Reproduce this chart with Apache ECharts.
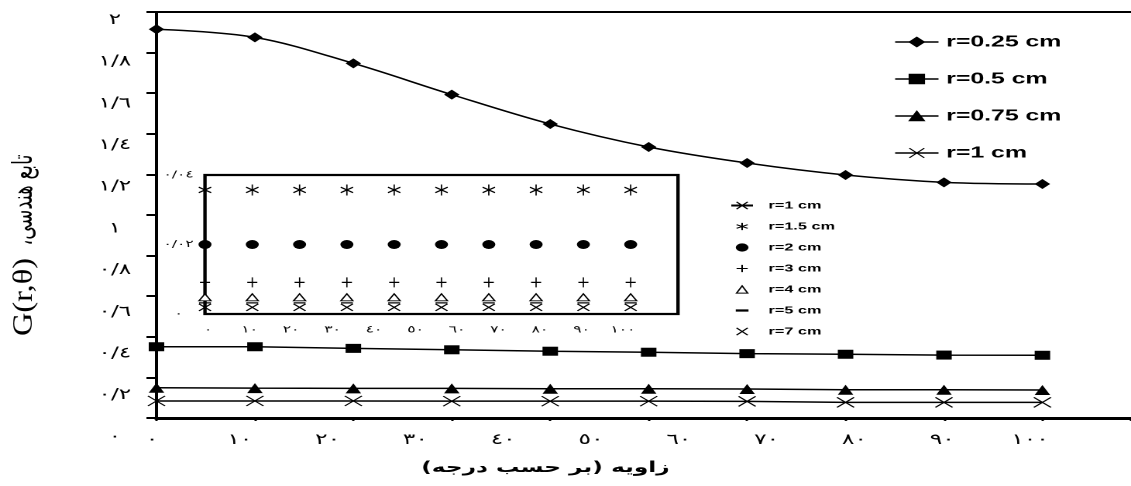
<!DOCTYPE html>
<html><head><meta charset="utf-8">
<script src="https://cdn.jsdelivr.net/npm/echarts@6/dist/echarts.min.js"></script>
<style>
html,body{margin:0;padding:0;background:#fff;overflow:hidden;width:1131px;height:486px}
#chart{width:730px;height:486px;transform:scaleX(1.549315);transform-origin:0 0}
</style></head><body><div id="chart"></div>
<script>
// angles (degrees)
const angles = [0, 10, 20, 30, 40, 50, 60, 70, 80, 90];
// main chart series
const r025 = [1.915, 1.875, 1.747, 1.593, 1.448, 1.335, 1.256, 1.197, 1.161, 1.153];
const r05  = [0.351, 0.351, 0.343, 0.336, 0.329, 0.324, 0.317, 0.314, 0.310, 0.309];
const r075 = [0.149, 0.147, 0.146, 0.146, 0.144, 0.144, 0.143, 0.139, 0.139, 0.138];
const r1   = [0.084, 0.084, 0.084, 0.083, 0.083, 0.083, 0.082, 0.077, 0.077, 0.077];
// inset series
const r15 = [0.0357, 0.0357, 0.0357, 0.0357, 0.0357, 0.0357, 0.0357, 0.0357, 0.0357, 0.0357];
const r2  = [0.0200, 0.0200, 0.0200, 0.0200, 0.0200, 0.0200, 0.0200, 0.0200, 0.0200, 0.0200];
const r3  = [0.0091, 0.0091, 0.0091, 0.0091, 0.0091, 0.0091, 0.0091, 0.0091, 0.0091, 0.0091];
const r4  = [0.0048, 0.0048, 0.0048, 0.0048, 0.0048, 0.0048, 0.0048, 0.0048, 0.0048, 0.0048];
const r5  = [0.0032, 0.0032, 0.0032, 0.0032, 0.0032, 0.0032, 0.0032, 0.0032, 0.0032, 0.0032];
const r7  = [0.0019, 0.0019, 0.0019, 0.0019, 0.0019, 0.0019, 0.0019, 0.0019, 0.0019, 0.0019];
// tick labels
const mainYTickLabels = ['٠', '٠/٢', '٠/٤', '٠/٦', '٠/٨', '١', '١/٢', '١/٤', '١/٦', '١/٨', '٢'];
const mainXTickLabels = ['٠', '١٠', '٢٠', '٣٠', '٤٠', '٥٠', '٦٠', '٧٠', '٨٠', '٩٠', '١٠٠'];
const insetYTickLabels = ['٠', '٠/٠٢', '٠/٠٤'];
const insetXTickLabels = ['٠', '١٠', '٢٠', '٣٠', '٤٠', '٥٠', '٦٠', '٧٠', '٨٠', '٩٠', '١٠٠'];
// titles
const yTitleLatin = 'G(r,θ)';
const yTitleArabicParts = ['،', 'تابع هندسی'];
const xTitle = 'زاویه (بر حسب درجه)';
const mainNames = ['r=0.25 cm', 'r=0.5 cm', 'r=0.75 cm', 'r=1 cm'];
const insetNames = ['r=1 cm', 'r=1.5 cm', 'r=2 cm', 'r=3 cm', 'r=4 cm', 'r=5 cm', 'r=7 cm'];

const X_PATH = 'path://M0,0L10,10M10,0L0,10';
const AST_PATH = 'path://M5,0L5,10M0.7,2.5L9.3,7.5M9.3,2.5L0.7,7.5';
const PLUS_PATH = 'path://M5,0L5,10M0,5L10,5';
const DASH_PATH = 'path://M0,0L0,0M0,4.2L10,4.2L10,5.8L0,5.8ZM10,10L10,10';

const pair = ys => angles.map((a, i) => [a, ys[i]]);
const richJoin = parts => parts.map(p => '{t|' + p + '}').join('');
const digitFont = "'DejaVu Sans', sans-serif";
const latinBold = "'Liberation Sans', Arial, sans-serif";

function mainSeries(name, ys, symbol, size, stroke, extra) {
  return Object.assign({
    name, type: 'line', xAxisIndex: 0, yAxisIndex: 0, data: pair(ys),
    symbol, symbolSize: size, showSymbol: true,
    itemStyle: { color: '#000', borderColor: '#000', borderWidth: stroke },
    lineStyle: { color: '#000', width: 1.5 },
    emphasis: { disabled: true }, z: 3
  }, extra || {});
}
function insetSeries(name, ys, symbol, size, fill, stroke) {
  return {
    name, type: 'line', xAxisIndex: 3, yAxisIndex: 2, data: pair(ys),
    symbol, symbolSize: size, showSymbol: true,
    itemStyle: { color: fill, borderColor: '#000', borderWidth: stroke },
    lineStyle: { width: 0, opacity: 0 },
    emphasis: { disabled: true }, z: 4
  };
}
const noAxis = { axisLine: { show: false }, axisTick: { show: false }, splitLine: { show: false } };

const chart = echarts.init(document.getElementById('chart'), null, { devicePixelRatio: 2 });
chart.setOption({
  animation: false,
  backgroundColor: '#fff',
  grid: [
    { left: 101, right: 0, top: 12, bottom: 68, outerBoundsMode: 'none' },
    { left: 98.1, width: 566.7, top: 20, height: 417, outerBoundsMode: 'none' },
    { left: 132.3, width: 305.3, top: 175, height: 139, show: true, backgroundColor: '#fff',
      borderColor: '#000', borderWidth: 2.2, outerBoundsMode: 'none' },
    { left: 134.3, width: 267.8, top: 322, height: 1, outerBoundsMode: 'none' }
  ],
  xAxis: [
    { gridIndex: 0, type: 'value', min: 0, max: 99, interval: 10,
      axisLine: { show: true, onZero: false, lineStyle: { color: '#000', width: 3 } },
      axisTick: { show: true, length: 3, lineStyle: { color: '#000', width: 1.5 } },
      axisLabel: { show: false }, splitLine: { show: false } },
    { gridIndex: 0, type: 'value', position: 'top', min: 0, max: 99,
      axisLine: { show: true, onZero: false, lineStyle: { color: '#000', width: 2 } },
      axisTick: { show: false }, axisLabel: { show: false }, splitLine: { show: false } },
    Object.assign({ gridIndex: 1, type: 'value', min: 0, max: 100, interval: 10,
      axisLabel: { show: true, margin: 3, verticalAlign: 'middle', color: '#000', fontFamily: digitFont, fontSize: 15,
        formatter: v => mainXTickLabels[Math.round(v / 10)] } }, noAxis),
    Object.assign({ gridIndex: 2, type: 'value', min: 0, max: 100, axisLabel: { show: false } }, noAxis),
    Object.assign({ gridIndex: 3, type: 'value', min: 0, max: 100, interval: 10,
      axisLabel: { show: true, margin: 7, verticalAlign: 'middle', color: '#000', fontFamily: digitFont, fontSize: 10,
        formatter: v => insetXTickLabels[Math.round(v / 10)] } }, noAxis)
  ],
  yAxis: [
    { gridIndex: 0, type: 'value', min: 0, max: 2, interval: 0.2,
      axisLine: { show: true, onZero: false, lineStyle: { color: '#000', width: 2 } },
      axisTick: { show: true, length: 6.5, lineStyle: { color: '#000', width: 2 } },
      axisLabel: { show: false }, splitLine: { show: false } },
    Object.assign({ gridIndex: 1, type: 'value', min: 0, max: 2, interval: 0.2,
      axisLabel: { show: true, align: 'center', margin: 24, color: '#000', fontFamily: digitFont, fontSize: 15,
        formatter: v => mainYTickLabels[Math.round(v / 0.2)] } }, noAxis),
    Object.assign({ gridIndex: 2, type: 'value', min: 0, max: 0.04, interval: 0.02,
      axisLabel: { show: true, align: 'center', margin: 17, color: '#000', fontFamily: digitFont, fontSize: 10,
        formatter: v => insetYTickLabels[Math.round(v / 0.02)] } }, noAxis),
    Object.assign({ gridIndex: 3, type: 'value', min: 0, max: 1, axisLabel: { show: false } }, noAxis)
  ],
  legend: [
    { orient: 'vertical', left: 577, top: 34, padding: 0, itemWidth: 28, itemHeight: 12, itemGap: 21,
      selectedMode: false, data: mainNames,
      textStyle: { color: '#000', fontFamily: latinBold, fontWeight: 'bold', fontSize: 16, lineHeight: 16 },
      itemStyle: { borderWidth: 1 }, lineStyle: { width: 1.5 } },
    { orient: 'vertical', left: 471, top: 200, padding: 0, itemWidth: 14, itemHeight: 9, itemGap: 10,
      selectedMode: false, data: insetNames,
      textStyle: { color: '#000', fontFamily: latinBold, fontWeight: 'bold', fontSize: 10.5, lineHeight: 10, padding: [0, 0, 0, 5] },
      itemStyle: { borderWidth: 1 } }
  ],
  graphic: [
    { type: 'text', x: 16, y: 297, rotation: Math.PI / 2, scaleX: 1.8,
      style: { text: yTitleLatin, fill: '#000', font: "18px 'Liberation Serif', serif", align: 'center', verticalAlign: 'middle' } },
    { type: 'text', x: 16, y: 200, rotation: Math.PI / 2, scaleX: 1.0,
      style: { text: richJoin(yTitleArabicParts), fill: '#000', font: "18px 'DejaVu Sans', sans-serif",
        align: 'center', verticalAlign: 'middle',
        rich: { t: { fontFamily: 'DejaVu Sans', fontSize: 18, fill: '#000' } } } },
    { type: 'text', x: 352, y: 468,
      style: { text: xTitle, fill: '#000', font: "bold 15px 'DejaVu Sans', sans-serif",
        align: 'center', verticalAlign: 'middle' } }
  ],
  series: [
    mainSeries('r=0.25 cm', r025, 'diamond', [10, 10], 0, { smooth: 0.35 }),
    mainSeries('r=0.5 cm', r05, 'rect', [10, 9], 0),
    mainSeries('r=0.75 cm', r075, 'triangle', [10, 10], 0),
    mainSeries('r=1 cm', r1, X_PATH, [11, 10], 1),
    insetSeries('r=1.5 cm', r15, AST_PATH, [8, 11], '#000', 1),
    insetSeries('r=2 cm', r2, 'circle', [8.4, 9], '#000', 0),
    insetSeries('r=3 cm', r3, PLUS_PATH, [6.5, 10], '#000', 1),
    insetSeries('r=4 cm', r4, 'triangle', [7.7, 7], '#fff', 1),
    insetSeries('r=5 cm', r5, DASH_PATH, [7.7, 7.7], '#000', 0),
    insetSeries('r=7 cm', r7, X_PATH, [7.7, 7], '#000', 1)
  ]
});
</script></body></html>
